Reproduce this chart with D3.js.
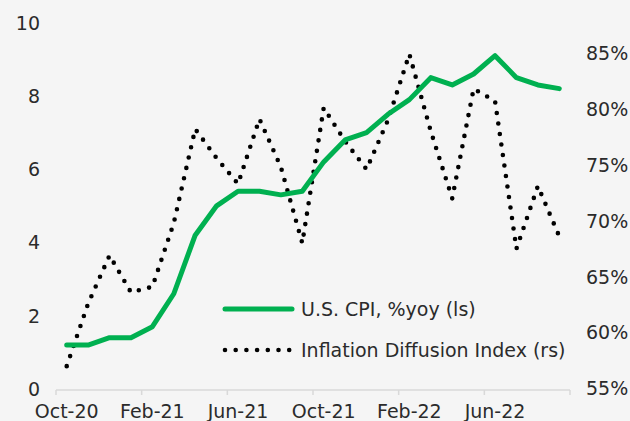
<!DOCTYPE html>
<html><head><meta charset="utf-8">
<script src="https://cdn.jsdelivr.net/npm/d3@7"></script>
<style>
html,body{margin:0;padding:0;background:#f5f5f5;}
svg{display:block;}
text{font-family:"DejaVu Sans",sans-serif;fill:#2b2b2b;}
</style></head><body>
<svg id="chart" width="630" height="421"></svg>
<script>
const months = ["Oct-20","Nov-20","Dec-20","Jan-21","Feb-21","Mar-21","Apr-21","May-21","Jun-21","Jul-21","Aug-21","Sep-21","Oct-21","Nov-21","Dec-21","Jan-22","Feb-22","Mar-22","Apr-22","May-22","Jun-22","Jul-22","Aug-22","Sep-22"];
const cpi = [1.2,1.2,1.4,1.4,1.7,2.6,4.2,5.0,5.4,5.4,5.3,5.4,6.2,6.8,7.0,7.5,7.9,8.5,8.3,8.6,9.1,8.5,8.3,8.2];
const diffusion = [57.0,62.6,66.9,63.6,64.1,69.8,78.2,75.6,73.3,79.1,74.8,68.0,80.1,77.1,74.6,79.0,84.9,78.0,72.0,81.8,80.7,67.5,73.1,68.6];
const leftTicks = [0,2,4,6,8,10];
const rightTicks = [55,60,65,70,75,80,85];
const xTickLabels = ["Oct-20","Feb-21","Jun-21","Oct-21","Feb-22","Jun-22"];
const seriesNames = ["U.S. CPI, %yoy (ls)","Inflation Diffusion Index (rs)"];

const svg = d3.select("#chart");
svg.append("rect").attr("width",630).attr("height",421).attr("fill","#f5f5f5");

const x = d3.scaleBand().domain(months).range([56,570]);
const yL = d3.scaleLinear().domain([0,10]).range([389,22.7]);
const yR = d3.scaleLinear().domain([55,85]).range([388.5,53]);
const cx = d => x(d) + x.bandwidth()/2;
const fs = 19;

// x axis line
const axisG = svg.append("g");
axisG.append("line").attr("x1",x.range()[0]).attr("x2",x.range()[1])
  .attr("y1",390).attr("y2",390).attr("stroke","#d9d9d9").attr("stroke-width",1.5);
const tickIdx = d3.range(0, months.length+1, 4);
axisG.selectAll("line.tk").data(tickIdx).join("line").attr("class","tk")
  .attr("x1",i => i < months.length ? x(months[i]) : x.range()[1])
  .attr("x2",i => i < months.length ? x(months[i]) : x.range()[1])
  .attr("y1",390).attr("y2",395).attr("stroke","#d9d9d9").attr("stroke-width",1.5);
axisG.selectAll("text.xl").data(xTickLabels).join("text").attr("class","xl")
  .attr("x",d => cx(d)).attr("y",418).attr("text-anchor","middle")
  .attr("font-size",fs).text(d => d);

// left labels
svg.selectAll("text.yl").data(leftTicks).join("text").attr("class","yl")
  .attr("x",40).attr("y",d => yL(d)).attr("dy","0.36em").attr("text-anchor","end")
  .attr("font-size",fs).text(d => d);
// right labels
svg.selectAll("text.yr").data(rightTicks).join("text").attr("class","yr")
  .attr("x",586).attr("y",d => yR(d)).attr("dy","0.36em").attr("text-anchor","start")
  .attr("font-size",fs).text(d => d + "%");

// lines
const green = "#00b050";
const lineL = d3.line().x((d,i) => cx(months[i])).y(d => yL(d));
const lineR = d3.line().x((d,i) => cx(months[i])).y(d => yR(d));
svg.append("path").datum(diffusion).attr("d",lineR).attr("fill","none")
  .attr("stroke","#000").attr("stroke-width",4.6).attr("stroke-linecap","round")
  .attr("stroke-dasharray","0 10.6");
svg.append("path").datum(cpi).attr("d",lineL).attr("fill","none")
  .attr("stroke",green).attr("stroke-width",5).attr("stroke-linejoin","round").attr("stroke-linecap","round");

// legend
const lg = svg.append("g");
lg.append("line").attr("x1",225).attr("x2",292).attr("y1",309).attr("y2",309)
  .attr("stroke",green).attr("stroke-width",5).attr("stroke-linecap","round");
lg.append("line").attr("x1",225).attr("x2",292).attr("y1",350).attr("y2",350)
  .attr("stroke","#000").attr("stroke-width",4.6).attr("stroke-linecap","round")
  .attr("stroke-dasharray","0 10.7");
lg.selectAll("text").data(seriesNames).join("text")
  .attr("x",301).attr("y",(d,i) => i===0 ? 309 : 350).attr("dy","0.36em")
  .attr("font-size",fs).text(d => d);
</script></body></html>
